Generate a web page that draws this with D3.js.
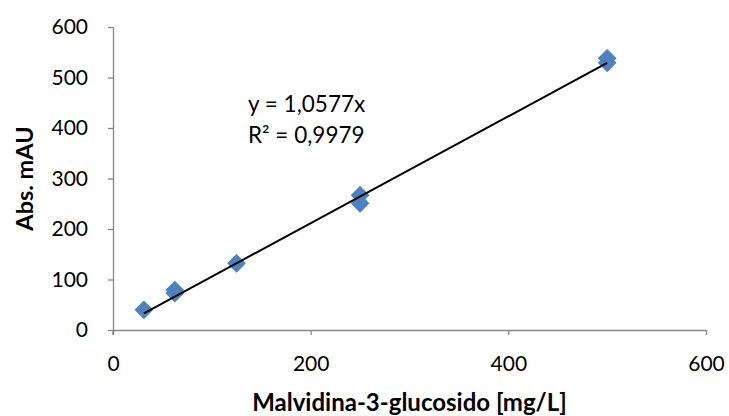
<!DOCTYPE html>
<html>
<head>
<meta charset="utf-8">
<script src="https://cdn.jsdelivr.net/npm/d3@7"></script>
<style>
  body { margin: 0; background: #fff; }
  svg text { font-family: Lato, "Open Sans", sans-serif; fill: #000; }
</style>
</head>
<body>
<svg id="chart" width="729" height="416"></svg>
<script>
// concentration of standard (mg/L) and measured absorbance (mAU)
const concentrations = [31.25, 62.5, 62.5, 125, 250, 250, 500, 500];
const absorbance = [40, 79, 73, 132, 267, 251, 538, 529];
const slope = 1.0577;
const xTicks = [0, 200, 400, 600];
const yTicks = [0, 100, 200, 300, 400, 500, 600];

const svg = d3.select("#chart");
const margin = { top: 27, right: 23, bottom: 86, left: 113 };
const width = 729 - margin.left - margin.right;
const height = 416 - margin.top - margin.bottom;

const g = svg.append("g")
    .attr("transform", `translate(${margin.left},${margin.top})`);

const x = d3.scaleLinear().domain([0, 600]).range([0, width]);
const y = d3.scaleLinear().domain([0, 600]).range([height, 0]);

const axisColor = "#868686";

//axes
const xAxis = g.append("g")
    .attr("transform", `translate(0,${height})`)
    .call(d3.axisBottom(x).tickValues(xTicks).tickSize(5).tickPadding(21).tickSizeOuter(0));

const yAxis = g.append("g")
    .call(d3.axisLeft(y).tickValues(yTicks).tickSize(5).tickPadding(20).tickSizeOuter(0));

[xAxis, yAxis].forEach(a => {
    a.selectAll("path, line").attr("stroke", axisColor).attr("stroke-width", 1.3);
    a.selectAll("text")
        .style("font-size", "21px")
        .attr("fill", "#000");
});

//small extension of y axis below origin
g.append("line")
    .attr("x1", 0).attr("x2", 0)
    .attr("y1", height).attr("y2", height + 5)
    .attr("stroke", axisColor).attr("stroke-width", 1.3);

//labels for axes
g.append("text")
    .attr("x", width / 2)
    .attr("y", height + 81)
    .attr("text-anchor", "middle")
    .style("font-size", "24px")
    .style("font-weight", "bold")
    .text("Malvidina-3-glucosido [mg/L]");

g.append("text")
    .attr("transform", "rotate(-90)")
    .attr("x", -height / 2)
    .attr("y", -80)
    .attr("text-anchor", "middle")
    .style("font-size", "23.5px")
    .style("font-weight", "bold")
    .text("Abs. mAU");

//points
const diamond = d3.symbol().type(d3.symbolDiamond2).size(225);
g.selectAll("path.pt")
    .data(concentrations.map((c, i) => ({ c, a: absorbance[i] })))
    .enter()
    .append("path")
    .attr("class", "pt")
    .attr("d", diamond)
    .attr("transform", d => `translate(${x(d.c)},${y(d.a)})`)
    .attr("fill", "#4F81BD");

//trendline through origin, drawn over the measured range
const xMin = d3.min(concentrations), xMax = d3.max(concentrations);
g.append("line")
    .attr("x1", x(xMin)).attr("y1", y(slope * xMin))
    .attr("x2", x(xMax)).attr("y2", y(slope * xMax))
    .attr("stroke", "#000")
    .attr("stroke-width", 2);

//equation
const eq = g.append("text")
    .style("font-size", "22.5px");
eq.append("tspan").attr("x", 135).attr("y", 85).text("y = 1,0577x");
eq.append("tspan").attr("x", 135).attr("y", 116).text("R² = 0,9979");
</script>
</body>
</html>
